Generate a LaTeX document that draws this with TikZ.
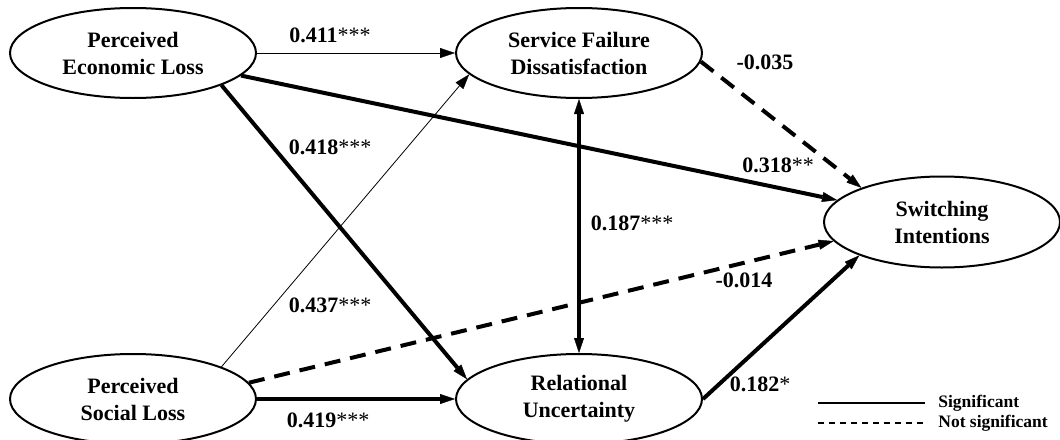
\documentclass[tikz,border=0pt]{standalone}
\usepackage{fontspec}
\setmainfont{Liberation Serif}
\usetikzlibrary{shapes.geometric,arrows.meta}

\tikzset{every picture/.style={line width=0.75pt}}
\tikzset{
	construct/.style={draw, ellipse, line width=2pt, inner sep=0pt, minimum width=246pt, minimum height=90pt, align=center, font=\fontsize{22}{27}\selectfont\bfseries},
	coef/.style={inner sep=0.75pt, font=\fontsize{22}{26}\selectfont\bfseries},
	tip/.style={-{Triangle[length=15pt,width=10pt,line width=0.4pt]}},
	thinpath/.style={tip, line width=0.8pt},
	thickpath/.style={tip, line width=4pt},
	nspath/.style={thickpath, dash pattern=on 16pt off 10pt},
	legtext/.style={anchor=west, inner sep=0pt, font=\fontsize{17.5}{20}\selectfont\bfseries},
}

\begin{document}
\begin{tikzpicture}[x=1pt,y=1pt,yscale=-1]
	\useasboundingbox (0,0) rectangle (1060,439);
	
	%Ellipses
	\node[construct] (PEL) at (133,53) {Perceived\\Economic Loss};
	\node[construct] (SFD) at (579,53) {Service Failure\\Dissatisfaction};
	\node[construct, minimum width=236pt, minimum height=91pt] (SI) at (942,222) {Switching\\Intentions};
	\node[construct] (PSL) at (133,399) {Perceived\\Social Loss};
	\node[construct] (RU) at (579,399) {Relational\\Uncertainty};
	
	%Straight Lines
	\draw[thinpath] (PEL.east) -- (SFD.west);
	\draw[thickpath] (PEL) -- (SI);
	\draw[thickpath] (PEL.-20) -- (RU.170);
	\draw[thinpath] (PSL.20) -- (SFD.191);
	\draw[nspath] (PSL.8) -- (SI.190);
	\draw[thickpath] (PSL.east) -- (RU.west);
	\draw[nspath] (SFD.-4) -- (SI.157);
	\draw[thickpath, {Triangle[length=15pt,width=10pt,line width=0.4pt]}-{Triangle[length=15pt,width=10pt,line width=0.4pt]}] (SFD.south) -- (RU.north);
	\draw[thickpath] (RU.east) -- (SI.202);
	
	% Text Node
	\node[coef] (c411) at (330,35) {0.411{\mdseries***}};
	% Text Node
	\node[coef] (c418) at (330,147) {0.418{\mdseries***}};
	% Text Node
	\node[coef] (c318) at (778,165) {0.318{\mdseries**}};
	% Text Node
	\node[coef] (c035) at (765,62) {-0.035};
	% Text Node
	\node[coef] (c187) at (632,223) {0.187{\mdseries***}};
	% Text Node
	\node[coef] (c437) at (330,305) {0.437{\mdseries***}};
	% Text Node
	\node[coef] (c014) at (744,280) {-0.014};
	% Text Node
	\node[coef] (c419) at (328,420) {0.419{\mdseries***}};
	% Text Node
	\node[coef] (c182) at (760,384) {0.182{\mdseries*}};
	
	%Legend
	\node[legtext] (sigT) at (938,403) {Significant};
	\node[legtext] (nsT) at (938,423) {Not significant};
	\draw[line width=1.6pt] ([xshift=-120pt]sigT.west) -- ([xshift=-13pt]sigT.west);
	\draw[line width=1.6pt, dash pattern=on 6pt off 5pt] ([xshift=-120pt]nsT.west) -- ([xshift=-13pt]nsT.west);
	
\end{tikzpicture}
\end{document}
